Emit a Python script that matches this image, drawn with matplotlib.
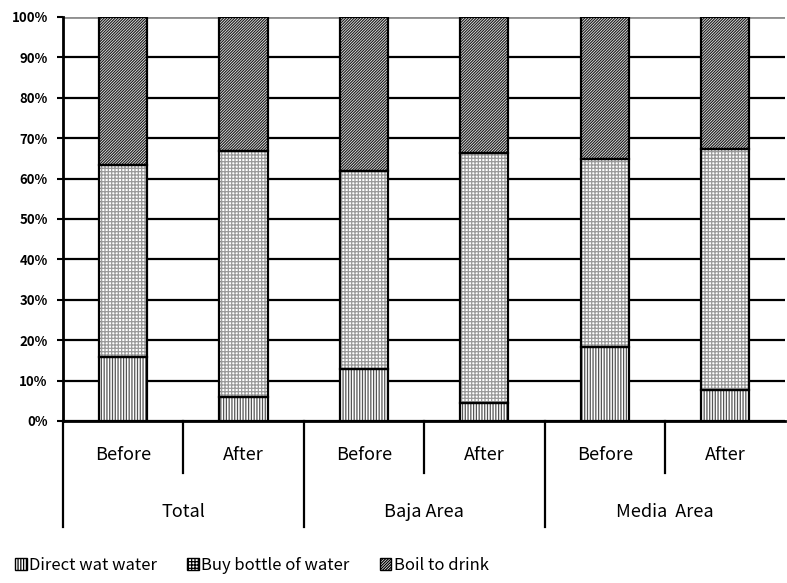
import matplotlib
matplotlib.use("Agg")
import matplotlib.pyplot as plt
import matplotlib.transforms as mtransforms
from matplotlib.patches import Patch

plt.rcParams['font.family'] = ['Noto Sans CJK JP', 'DejaVu Sans']
plt.rcParams['hatch.linewidth'] = 0.9

groups = ['Total', 'Baja Area', 'Media  Area']
periods = ['Before', 'After']
series = ['Direct wat water', 'Buy bottle of water', 'Boil to drink']

# percentages per bar: Total B/A, Baja B/A, Media B/A
direct = [15.8, 5.9, 12.9, 4.5, 18.3, 7.7]
bottle = [47.6, 60.9, 49.0, 61.8, 46.6, 59.6]
boil = [36.6, 33.2, 38.1, 33.7, 35.1, 32.7]

hatches = ['||||||', '+++++', '////////////']
hatch_cols = ['#555555', '#999999', '#222222']

fig = plt.figure(figsize=(7.87, 5.83), dpi=100)
ax = fig.add_axes([0.080, 0.278, 0.918, 0.693])

x = list(range(len(direct)))
bottom = [0.0] * len(x)
for vals, h, hc in zip([direct, bottle, boil], hatches, hatch_cols):
    # hatch layer, then black outline on top
    ax.bar(x, vals, 0.4, bottom=bottom, color='white', edgecolor=hc,
           hatch=h, linewidth=0, zorder=3)
    ax.bar(x, vals, 0.4, bottom=bottom, fill=False, edgecolor='black',
           linewidth=1.6, zorder=4)
    bottom = [b + v for b, v in zip(bottom, vals)]

ax.set_xlim(-0.5, 5.5)
ax.set_ylim(0, 100)
ax.set_yticks(range(0, 101, 10))
ax.set_yticklabels([f'{t}%' for t in range(0, 101, 10)], fontsize=9.5,
                   fontweight='bold')
ax.tick_params(axis='y', length=4, width=1.5, pad=7)
ax.set_xticks([])
ax.yaxis.grid(True, color='black', linewidth=1.6, zorder=1)
ax.set_axisbelow(True)
for s in ['top', 'right']:
    ax.spines[s].set_visible(False)
ax.spines['left'].set_linewidth(2)
ax.spines['bottom'].set_linewidth(2)
ax.axhline(100, color='#909090', linewidth=2, zorder=2)

# two-level category axis below the plot
trans = mtransforms.blended_transform_factory(ax.transData, ax.transAxes)
for i, p in enumerate(periods * len(groups)):
    ax.text(i, -0.085, p, transform=trans, ha='center', va='center', fontsize=13)
for g, name in enumerate(groups):
    ax.text(2 * g + 0.5, -0.225, name, transform=trans, ha='center',
            va='center', fontsize=13)
    ax.plot([2 * g + 0.5, 2 * g + 0.5], [0, -0.13], transform=trans,
            color='black', linewidth=1.6, clip_on=False)
for xs in [-0.5, 1.5, 3.5]:
    ax.plot([xs, xs], [0, -0.262], transform=trans, color='black',
            linewidth=1.6, clip_on=False)

handles = [Patch(facecolor='white', edgecolor='black', hatch=h, linewidth=1)
           for h in hatches]
fig.legend(handles, series, loc='center left', bbox_to_anchor=(0.0, 0.03),
           ncol=3, frameon=False, fontsize=12, handlelength=0.7,
           handleheight=0.7, handletextpad=0.15, columnspacing=1.8)

fig.savefig('out.png', dpi=100)
